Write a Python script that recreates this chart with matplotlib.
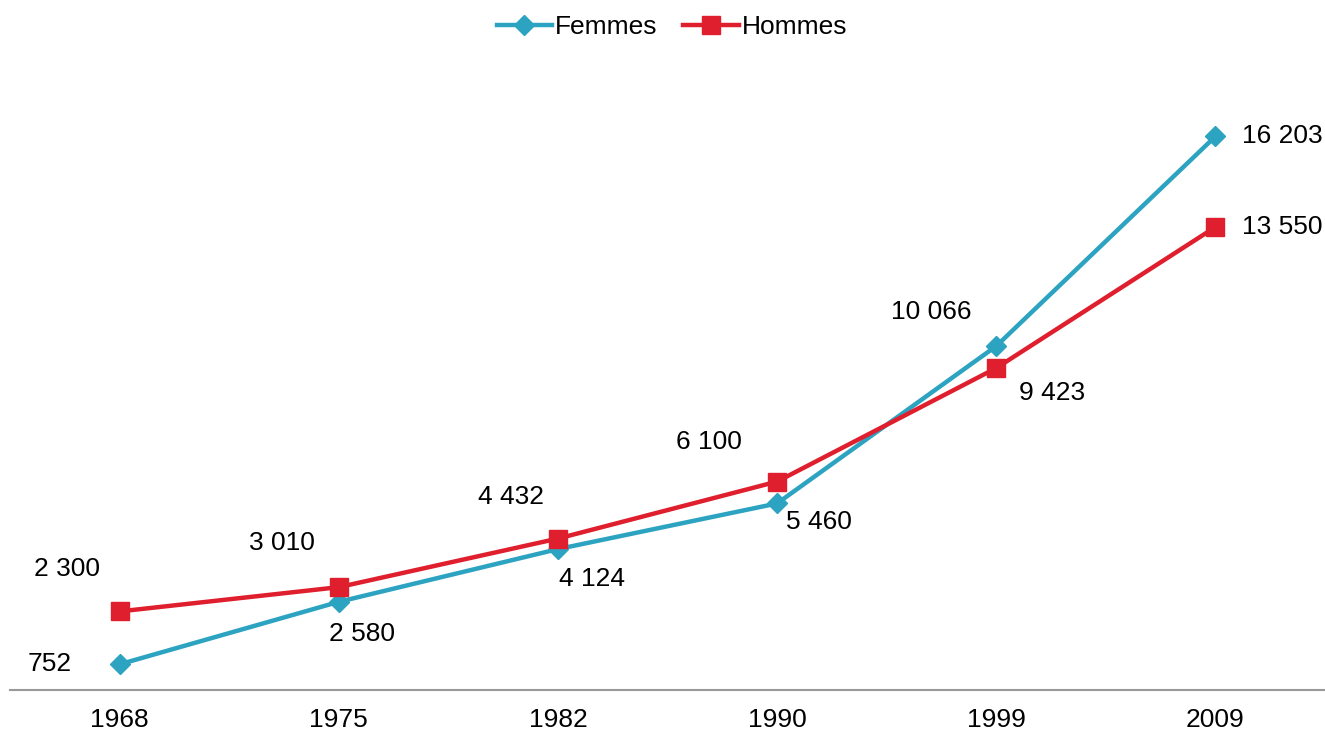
import matplotlib
matplotlib.use("Agg")
import matplotlib.pyplot as plt

plt.rcParams['font.family'] = ['Liberation Sans', 'DejaVu Sans']

years = ["1968", "1975", "1982", "1990", "1999", "2009"]
femmes = [752, 2580, 4124, 5460, 10066, 16203]
hommes = [2300, 3010, 4432, 6100, 9423, 13550]
femmes_labels = ["752", "2 580", "4 124", "5 460", "10 066", "16 203"]
hommes_labels = ["2 300", "3 010", "4 432", "6 100", "9 423", "13 550"]

fem_off = [(-70, 0), (23, -32), (34, -30), (42, -19), (-65, 34), (67, 0)]
hom_off = [(-53, 42), (-57, 44), (-47, 42), (-68, 40), (56, -25), (67, 0)]

W, H = 1325, 735
fig = plt.figure(figsize=(W / 100, H / 100), dpi=100)
ax = fig.add_axes([10 / W, 45 / H, 1315 / W, 615 / H])

c_f = "#2CA3C1"
c_h = "#DF1F2D"
x = list(range(len(years)))
ax.plot(x, femmes, color=c_f, lw=3.2, marker="D", ms=10, label="Femmes", zorder=3)
ax.plot(x, hommes, color=c_h, lw=3.2, marker="s", ms=13, label="Hommes", zorder=3)

for i in x:
    ax.annotate(femmes_labels[i], (i, femmes[i]), xytext=fem_off[i], textcoords="offset pixels",
                ha="center", va="center", fontsize=19, color="black")
    ax.annotate(hommes_labels[i], (i, hommes[i]), xytext=hom_off[i], textcoords="offset pixels",
                ha="center", va="center", fontsize=19, color="black")

ax.set_xlim(-0.5, 5.5)
ax.set_ylim(0, 18000)
ax.set_xticks(x)
ax.set_xticklabels(years, fontsize=19)
ax.tick_params(axis="x", length=0, pad=13)
ax.set_yticks([])
for s in ["top", "right", "left"]:
    ax.spines[s].set_visible(False)
ax.spines["bottom"].set_color("#999999")
ax.spines["bottom"].set_linewidth(1.5)

fig.legend(loc="upper center", bbox_to_anchor=(0.507, 1.012), ncol=2, frameon=False,
           fontsize=19, handlelength=2.1, handletextpad=0.1, columnspacing=1.0)

fig.savefig("out.png", dpi=100)
